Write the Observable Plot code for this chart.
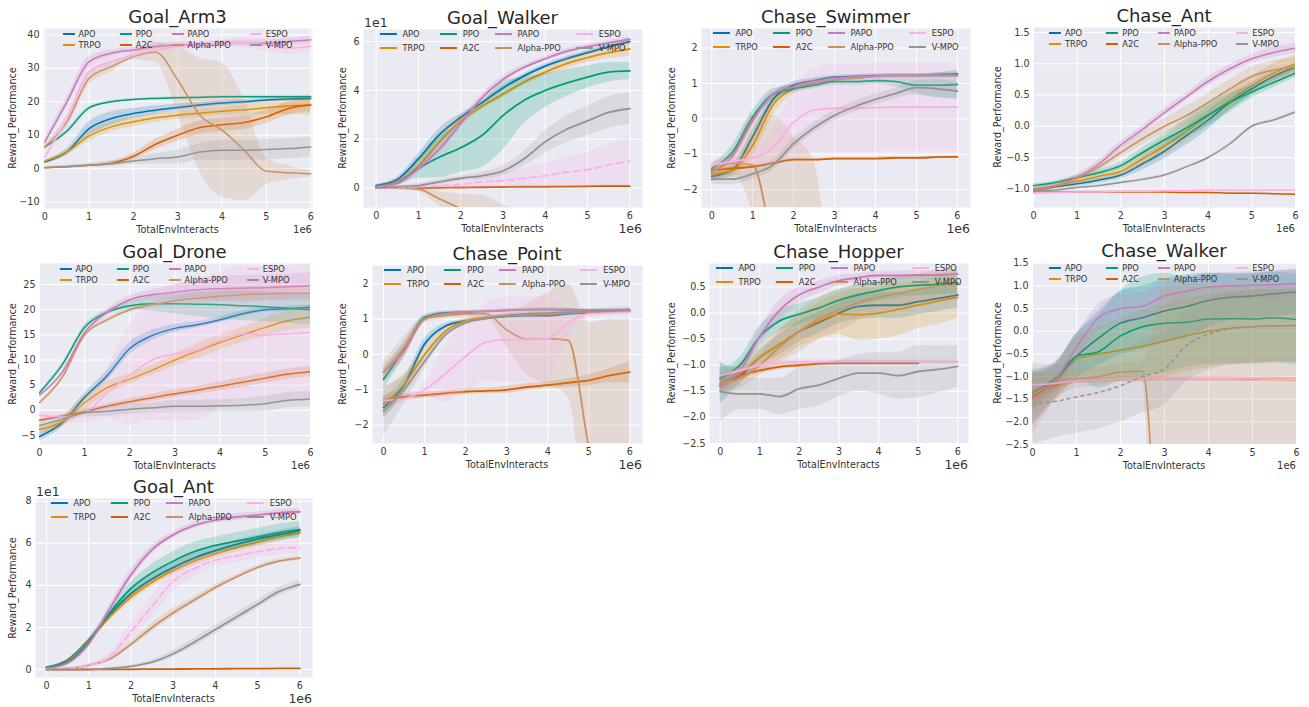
<!DOCTYPE html>
<html><head><meta charset="utf-8">
<script src="https://cdn.jsdelivr.net/npm/d3@7"></script>
<script src="https://cdn.jsdelivr.net/npm/@observablehq/plot@0.6"></script>
<style>
body{margin:0;background:#fff;font-family:"DejaVu Sans",sans-serif;}
#fig{position:relative;width:1309px;height:707px;overflow:hidden;background:#fff;}
.t{position:absolute;white-space:nowrap;color:#333;font-family:"DejaVu Sans",sans-serif;}
.title{font-size:18px;line-height:20px;color:#262626;transform:translateX(-50%);}
.xlab{font-size:9.6px;line-height:12px;transform:translateX(-50%);}
.ylab{font-size:9.6px;line-height:12px;transform:translate(-50%,-50%) rotate(-90deg);}
.legend{position:absolute;display:grid;grid-template-columns:repeat(4,auto);grid-auto-flow:column;transform:translateX(-50%);font-family:"DejaVu Sans",sans-serif;font-size:8.3px;color:#333;}
.legend .it{display:flex;align-items:center;white-space:nowrap;}
.legend .sw{display:inline-block;flex:none;}
</style></head><body><div id="fig"></div>
<script>
const methods = ["APO","TRPO","PPO","A2C","PAPO","Alpha-PPO","ESPO","V-MPO"];
const palette = ["#0173B2","#DE8F05","#029E73","#D55E00","#CC78BC","#CA9161","#FBAFE4","#949494"];
const steps = [0,500000,1000000,1500000,2000000,2500000,3000000,3500000,4000000,4500000,5000000,5500000,6000000];
const xTicks = [0,1000000,2000000,3000000,4000000,5000000,6000000];

// ---- Goal_Arm3 ----
const goalArm3 = {
  "APO":[2,5,12,15,16.5,17.5,18.3,19,19.6,20,20.5,20.8,21],
  "TRPO":[2.2,5,9.8,12.5,14,15.2,16,16.6,17.2,17.6,18.2,18.7,19],
  "PPO":[6.5,11.2,18.2,20,20.7,21,21.2,21.3,21.5,21.5,21.5,21.5,21.5],
  "A2C":[0.3,0.6,1,1.6,3.7,7.3,10,12.3,13.1,13.8,15.5,18,19],
  "PAPO":[8,20,32,34.5,35.5,36.5,37,37,37.5,37.5,37.5,38,38.5],
  "Alpha-PPO":[6.5,14,27,30.5,33.5,34.8,26.5,16,11.5,5.5,-0.8,-1.2,-1.5],
  "ESPO":[3.5,15,29,32,34,35.5,36.5,37,37.5,37.5,37,36,36.5],
  "V-MPO":[0.3,0.6,1,1.5,2.3,3,3.5,5,5.5,5.5,5.7,6,6.5]
};
const goalArm3Sd = {
  "APO":[0.5,1,2,2,1.5,1.2,1,0.8,0.8,0.7,0.6,0.6,0.6],
  "TRPO":[0.4,0.8,1.5,1.5,1.5,1.3,1.2,1.2,1.2,1.5,2,2.5,3],
  "PPO":[0.5,0.6,0.5,0.4,0.3,0.3,0.3,0.3,0.3,0.3,0.3,0.3,0.3],
  "A2C":[0.2,0.3,0.4,0.6,1,1.5,1.8,2,2,2,2,2,2],
  "PAPO":[1,1.5,1.5,1,0.8,0.8,0.8,0.8,0.8,1,1,1,1],
  "Alpha-PPO":[1,1.5,2,1.5,1,3,10,17,20,15,4,2,1],
  "ESPO":[1,1.5,2,1.5,1,1,1,1,1,1.5,2,2,1.5],
  "V-MPO":[0.3,0.5,0.5,0.8,1,1.5,2,2.5,3,3,3,3,3]
};

// ---- Goal_Walker ----
const goalWalker = {
  "APO":[1,3.5,12,22,29,35,41,46,50,53,55.5,58,60],
  "TRPO":[0.5,2.5,9,19,27.5,33.5,38.5,43.5,47.5,51,53.5,55.5,57],
  "PPO":[0.5,2,8,12.7,16.5,21.5,29.7,36,40,43,45.5,47.5,48],
  "A2C":[0,0,0,0.1,0.2,0.3,0.4,0.5,0.5,0.6,0.7,0.8,0.8],
  "PAPO":[0.5,2,8,16,26.5,37,44.5,49.5,53,56,58,59.5,61],
  "Alpha-PPO":[0,0,-0.5,-4.5,-8.5,-13,-18,-23,-28,-33,-38,-43,-48],
  "ESPO":[0,0.2,0.5,1,1.5,2.5,3,4,5,6.5,7.5,9.5,11],
  "V-MPO":[0,0.5,1,2.5,4,5,7,12,19,24,27.5,31,32.5]
};
const goalWalkerSd = {
  "APO":[0.5,1,2,2.5,1.5,1,1,1,1,1,1,1,1],
  "TRPO":[0.5,1,2,2.5,2,1.5,1.5,1.5,1.5,2,2,2.5,3],
  "PPO":[0.5,1,4,8.5,10,13,14,9.5,7,5.5,4.5,4,3.5],
  "A2C":[0.1,0.1,0.1,0.2,0.2,0.3,0.3,0.3,0.3,0.3,0.3,0.3,0.3],
  "PAPO":[0.5,1,2,2,2,1.5,1.5,1,1,1,1,1,1],
  "Alpha-PPO":[0.2,0.5,1,3,6,10,11,12,12,12,12,12,12],
  "ESPO":[0.5,1,1,1.5,2,2.5,3,4,5,6,7,8.5,10],
  "V-MPO":[0.3,0.5,0.8,1,1,1.5,2,3,4.5,5.5,6,6.5,6.5]
};

// ---- Chase_Swimmer ----
const chaseSwimmer = {
  "APO":[-1.62,-1.45,-0.5,0.55,0.95,1.08,1.18,1.2,1.22,1.23,1.23,1.25,1.27],
  "TRPO":[-1.55,-1.45,-0.75,0.4,0.85,1.0,1.1,1.15,1.2,1.22,1.22,1.22,1.22],
  "PPO":[-1.4,-0.95,0.05,0.7,0.85,0.95,1.05,1.05,1.08,1.05,0.95,0.95,0.97],
  "A2C":[-1.45,-1.4,-1.35,-1.25,-1.15,-1.15,-1.12,-1.12,-1.12,-1.1,-1.1,-1.08,-1.07],
  "PAPO":[-1.5,-1.05,-0.05,0.7,0.9,1.05,1.12,1.18,1.2,1.22,1.22,1.22,1.22],
  "Alpha-PPO":[-1.5,-1.25,-1.3,-3.5,-5,-6,-7,-8,-9,-10,-11,-12,-13],
  "ESPO":[-1.3,-1.2,-1.1,-0.8,-0.1,0.25,0.3,0.3,0.32,0.33,0.33,0.33,0.33],
  "V-MPO":[-1.7,-1.7,-1.55,-1.3,-0.7,-0.25,0.1,0.35,0.55,0.72,0.88,0.85,0.78]
};
const chaseSwimmerSd = {
  "APO":[0.1,0.15,0.2,0.15,0.1,0.08,0.05,0.05,0.05,0.05,0.05,0.05,0.05],
  "TRPO":[0.15,0.2,0.3,0.3,0.15,0.1,0.08,0.05,0.05,0.05,0.05,0.05,0.05],
  "PPO":[0.1,0.2,0.2,0.15,0.1,0.1,0.1,0.1,0.1,0.15,0.25,0.35,0.4],
  "A2C":[0.05,0.05,0.05,0.04,0.03,0.03,0.03,0.03,0.03,0.03,0.03,0.03,0.03],
  "PAPO":[0.1,0.15,0.15,0.1,0.08,0.06,0.05,0.05,0.05,0.05,0.05,0.05,0.05],
  "Alpha-PPO":[0.3,0.3,1.4,3.6,4.5,4.8,2,2,2,2,2,2,2],
  "ESPO":[0.1,0.1,0.2,0.5,0.9,1.2,1.25,1.25,1.25,1.25,1.25,1.25,1.25],
  "V-MPO":[0.15,0.15,0.15,0.15,0.15,0.15,0.15,0.15,0.15,0.15,0.2,0.25,0.25]
};

// ---- Chase_Ant ----
const chaseAnt = {
  "APO":[-1.03,-0.97,-0.92,-0.86,-0.78,-0.6,-0.4,-0.15,0.1,0.38,0.6,0.8,0.95],
  "TRPO":[-1.02,-0.95,-0.88,-0.8,-0.72,-0.52,-0.32,-0.08,0.17,0.42,0.65,0.85,1.0],
  "PPO":[-0.95,-0.9,-0.82,-0.74,-0.63,-0.42,-0.22,-0.03,0.18,0.38,0.55,0.7,0.85],
  "A2C":[-1.05,-1.05,-1.05,-1.05,-1.05,-1.05,-1.05,-1.06,-1.06,-1.07,-1.07,-1.08,-1.09],
  "PAPO":[-1.0,-0.95,-0.82,-0.6,-0.3,-0.05,0.22,0.47,0.72,0.92,1.08,1.18,1.25],
  "Alpha-PPO":[-1.0,-0.95,-0.83,-0.65,-0.42,-0.2,0.0,0.17,0.38,0.6,0.8,0.9,0.95],
  "ESPO":[-1.07,-1.06,-1.05,-1.05,-1.04,-1.04,-1.03,-1.03,-1.02,-1.02,-1.02,-1.02,-1.02],
  "V-MPO":[-1.03,-1.02,-0.98,-0.95,-0.9,-0.85,-0.78,-0.65,-0.5,-0.28,0.0,0.1,0.23]
};
const chaseAntSd = {
  "APO":[0.03,0.03,0.04,0.05,0.06,0.1,0.12,0.15,0.15,0.12,0.1,0.08,0.06],
  "TRPO":[0.03,0.04,0.05,0.06,0.08,0.12,0.15,0.15,0.15,0.15,0.15,0.15,0.15],
  "PPO":[0.03,0.03,0.04,0.05,0.06,0.08,0.1,0.15,0.18,0.15,0.1,0.08,0.07],
  "A2C":[0.01,0.01,0.01,0.01,0.01,0.01,0.01,0.01,0.01,0.01,0.01,0.01,0.01],
  "PAPO":[0.03,0.04,0.05,0.06,0.06,0.06,0.06,0.06,0.07,0.07,0.07,0.08,0.08],
  "Alpha-PPO":[0.03,0.04,0.05,0.06,0.08,0.1,0.12,0.15,0.15,0.15,0.15,0.15,0.15],
  "ESPO":[0.03,0.03,0.03,0.03,0.03,0.03,0.03,0.03,0.03,0.03,0.03,0.03,0.03],
  "V-MPO":[0.02,0.02,0.02,0.02,0.02,0.02,0.02,0.02,0.02,0.02,0.02,0.02,0.02]
};

// ---- Goal_Drone ----
const goalDrone = {
  "APO":[-5.2,-2.5,2.6,6.9,12.3,14.9,16.3,17,18,19.2,20,20.2,20.5],
  "TRPO":[-3.8,-2.3,1.5,4.5,6.2,8,10,11.8,13.5,15,16.5,17.8,18.5],
  "PPO":[3.5,9,16.5,19.5,20.8,21.2,21.2,21.1,21,20.8,20.6,20.3,20],
  "A2C":[-2,-1.2,-0.3,0.8,1.7,2.5,3.3,4,4.8,5.6,6.4,7.2,7.7],
  "PAPO":[3,7.5,15.5,19.5,22,23,23.5,24,24.2,24.3,24.4,24.6,24.8],
  "Alpha-PPO":[1.5,6.5,15,18,20,21,21.8,22.3,22.7,23,23.2,23.3,23.3],
  "ESPO":[-1,-1.3,-0.5,3.5,7,10,11.3,12,14,15.2,15,15.2,15.5],
  "V-MPO":[-3,-1.8,-0.5,-0.2,0.2,0.5,0.8,0.8,0.9,1,1.3,2,2.2]
};
const goalDroneSd = {
  "APO":[0.8,0.8,0.8,1,1.2,1,0.8,0.6,0.6,0.6,0.5,0.5,0.5],
  "TRPO":[0.8,1,1.5,1.2,1,1,1.2,1.5,1.5,1.5,1.8,2,2.2],
  "PPO":[0.3,0.4,0.5,0.5,0.8,1.5,2,2.5,2.8,3,3,3,3],
  "A2C":[0.3,0.3,0.3,0.5,0.6,0.7,0.8,0.8,0.9,1,1,1,1],
  "PAPO":[0.3,0.4,0.5,0.6,0.8,1,1.5,2,2.5,2.5,2.5,2.5,2.5],
  "Alpha-PPO":[0.3,0.4,0.5,0.5,0.5,0.6,0.8,1,1,1.5,1.5,1.5,1.5],
  "ESPO":[0.5,1,2,5,10,12,13.5,14,13.5,13.5,13.5,13.5,13.5],
  "V-MPO":[0.8,0.8,0.8,1,1,1,1.2,1.2,1.2,1.3,1.5,1.5,1.5]
};

// ---- Chase_Point ----
const chasePoint = {
  "APO":[-1.5,-0.87,0.3,0.8,0.95,1.02,1.08,1.1,1.1,1.15,1.18,1.2,1.22],
  "TRPO":[-1.4,-0.85,0.0,0.65,0.95,1.05,1.1,1.12,1.15,1.18,1.2,1.22,1.25],
  "PPO":[-0.7,0.15,1.05,1.18,1.2,1.22,1.25,1.27,1.28,1.27,1.25,1.25,1.22],
  "A2C":[-1.3,-1.2,-1.15,-1.1,-1.05,-1.03,-1.0,-0.92,-0.87,-0.8,-0.73,-0.6,-0.5],
  "PAPO":[-0.5,0.1,1.0,1.15,1.2,1.22,1.25,1.27,1.27,1.25,1.25,1.25,1.25],
  "Alpha-PPO":[-0.5,0.2,1.0,1.1,1.15,1.15,0.7,0.43,0.45,0.4,-2.6,-5,-7],
  "ESPO":[-1.3,-1.25,-1.0,-0.55,-0.05,0.35,0.42,0.42,0.45,0.9,1.15,1.18,1.2],
  "V-MPO":[-1.6,-1.0,-0.2,0.55,0.9,1.02,1.1,1.15,1.17,1.2,1.22,1.25,1.28]
};
const chasePointSd = {
  "APO":[0.3,0.2,0.15,0.08,0.05,0.05,0.05,0.05,0.05,0.05,0.05,0.05,0.05],
  "TRPO":[0.4,0.3,0.2,0.1,0.06,0.05,0.05,0.05,0.05,0.05,0.05,0.05,0.05],
  "PPO":[0.3,0.2,0.08,0.05,0.04,0.04,0.04,0.04,0.04,0.04,0.04,0.04,0.04],
  "A2C":[0.1,0.08,0.08,0.08,0.08,0.08,0.1,0.1,0.1,0.12,0.15,0.2,0.3],
  "PAPO":[0.2,0.2,0.08,0.05,0.04,0.04,0.04,0.04,0.04,0.04,0.04,0.04,0.04],
  "Alpha-PPO":[0.3,0.3,0.1,0.1,0.1,0.1,0.5,1.0,1.3,1.6,3.5,6,8],
  "ESPO":[0.1,0.1,0.2,0.8,1.0,1.1,1.2,1.2,1.2,0.4,0.1,0.1,0.1],
  "V-MPO":[0.7,0.4,0.2,0.1,0.08,0.06,0.05,0.05,0.05,0.05,0.05,0.08,0.08]
};

// ---- Chase_Hopper ----
const chaseHopper = {
  "APO":[-1.35,-1.2,-0.85,-0.6,-0.35,-0.18,0.0,0.13,0.15,0.15,0.22,0.28,0.35],
  "TRPO":[-1.35,-1.15,-0.85,-0.6,-0.35,-0.15,-0.02,-0.03,0.0,0.07,0.15,0.23,0.3],
  "PPO":[-1.25,-1.0,-0.45,-0.15,-0.02,0.1,0.25,0.35,0.43,0.5,0.53,0.55,0.58],
  "A2C":[-1.4,-1.2,-1.1,-1.03,-1.0,-0.97,-0.96,-0.96,-0.96,-0.96,-0.96,null,null],
  "PAPO":[-1.4,-1.1,-0.45,0.05,0.35,0.5,0.62,0.68,0.72,0.72,0.73,0.73,0.75],
  "Alpha-PPO":[-1.35,-1.25,-1.0,-0.65,-0.35,-0.1,0.05,0.2,0.3,0.38,0.45,0.52,0.55],
  "ESPO":[-1.2,-1.1,-1.0,-0.95,-0.93,-0.93,-0.93,-0.93,-0.93,-0.93,-0.93,-0.93,-0.93],
  "V-MPO":[-1.5,-1.55,-1.55,-1.6,-1.45,-1.38,-1.25,-1.15,-1.15,-1.2,-1.12,-1.08,-1.02]
};
const chaseHopperSd = {
  "APO":[0.4,0.15,0.15,0.2,0.2,0.2,0.2,0.25,0.25,0.25,0.25,0.25,0.25],
  "TRPO":[0.2,0.2,0.2,0.3,0.3,0.35,0.4,0.5,0.5,0.5,0.45,0.45,0.4],
  "PPO":[0.2,0.15,0.2,0.2,0.2,0.2,0.2,0.2,0.2,0.2,0.2,0.2,0.2],
  "A2C":[0.1,0.08,0.06,0.05,0.05,0.04,0.04,0.04,0.04,0.04,0.04,null,null],
  "PAPO":[0.1,0.1,0.15,0.2,0.15,0.12,0.1,0.08,0.08,0.08,0.08,0.08,0.08],
  "Alpha-PPO":[0.2,0.2,0.2,0.3,0.4,0.4,0.4,0.35,0.3,0.3,0.3,0.3,0.3],
  "ESPO":[0.05,0.05,0.05,0.05,0.05,0.05,0.05,0.05,0.05,0.05,0.05,0.05,0.05],
  "V-MPO":[0.6,0.3,0.3,0.35,0.4,0.4,0.35,0.35,0.4,0.45,0.5,0.45,0.4]
};

// ---- Chase_Walker ----
const chaseWalker = {
  "APO":[-1.45,-1.1,-0.55,-0.15,0.18,0.3,0.45,0.55,0.68,0.75,0.78,0.83,0.87],
  "TRPO":[-1.4,-1.15,-0.62,-0.5,-0.42,-0.33,-0.22,-0.1,0.0,0.07,0.1,0.12,0.13],
  "PPO":[-1.35,-1.05,-0.55,-0.45,-0.1,0.1,0.18,0.2,0.27,0.28,0.27,0.3,0.26],
  "A2C":[-1.45,-1.2,-1.1,-1.08,-1.05,-1.05,-1.05,-1.05,-1.05,-1.05,-1.06,-1.06,-1.07],
  "PAPO":[-1.5,-1.1,-0.35,0.3,0.5,0.55,0.78,0.88,0.98,1.0,1.02,1.03,1.05],
  "Alpha-PPO":[-1.6,-1.25,-1.05,-1.0,-0.9,-0.88,-7,-8,-8,-8,-8,-8,-8],
  "ESPO":[-1.18,-1.15,-1.1,-1.08,-1.05,-1.05,-1.05,-1.05,-1.05,-1.05,-1.05,-1.06,-1.07],
  "V-MPO":[-1.6,-1.55,-1.45,-1.35,-1.2,-1.0,-0.83,-0.31,-0.06,0.05,0.1,0.12,0.13]
};
const chaseWalkerSd = {
  "APO":[0.6,0.4,0.5,0.6,0.7,0.7,0.7,0.7,0.6,0.5,0.5,0.5,0.5],
  "TRPO":[0.5,0.4,0.5,0.6,0.7,0.8,0.8,0.8,0.8,0.8,0.8,0.8,0.8],
  "PPO":[0.4,0.3,0.5,0.8,1.0,1.1,1.1,1.0,1.0,1.0,1.0,1.0,1.0],
  "A2C":[0.1,0.1,0.05,0.05,0.05,0.05,0.05,0.05,0.05,0.05,0.05,0.05,0.05],
  "PAPO":[0.6,0.4,0.3,0.3,0.3,0.3,0.3,0.3,0.3,0.3,0.3,0.3,0.3],
  "Alpha-PPO":[0.7,0.3,0.2,0.2,0.2,0.2,8,9,9,9,9,9,9],
  "ESPO":[0.03,0.03,0.03,0.03,0.03,0.03,0.03,0.03,0.03,0.03,0.03,0.03,0.03],
  "V-MPO":[0.9,0.8,0.8,0.8,0.8,0.8,0.8,0.8,0.8,0.8,0.8,0.8,0.8]
};

// ---- Goal_Ant ----
const goalAnt = {
  "APO":[1,4.5,14,26,36,43,48.5,53,56.5,59.5,62,64,66],
  "TRPO":[1,4,13.5,25,34.5,41.5,47,51.5,55,58,60.5,63,65],
  "PPO":[1,3.5,13,27,38.5,46,51.5,56,59,61,63,65,66.5],
  "A2C":[0,0,0,0.1,0.1,0.2,0.2,0.3,0.3,0.4,0.4,0.5,0.5],
  "PAPO":[0.5,3,12,29,45,57,64,68.5,71,72.5,73.5,74.5,75],
  "Alpha-PPO":[0,0.5,2,5,12,20,27,33,39,44,48.5,51.5,53],
  "ESPO":[0,0.5,2,6,18,30,42,48,52,54,56,57.5,58],
  "V-MPO":[0,0,0,0.5,1.5,3.5,7.5,13,19,25,31,37,40.5]
};
const goalAntSd = {
  "APO":[0.3,0.5,1,1.5,2,2,2,2,2,2,2,2,2],
  "TRPO":[0.3,0.5,1,1.5,2,2,2,2,2,2,2,2,2],
  "PPO":[0.3,0.5,1,2,3,4,4.5,4.5,4,4,4,4,4],
  "A2C":[0.1,0.1,0.1,0.1,0.1,0.1,0.1,0.1,0.1,0.1,0.1,0.1,0.1],
  "PAPO":[0.3,0.5,1,2,2.5,2,1.5,1.5,1.5,1.5,1.5,1.5,1.5],
  "Alpha-PPO":[0.2,0.3,0.5,1,1.5,2,2,1.5,1.5,1,1,1,1],
  "ESPO":[0.2,0.3,0.8,2,4,5,5,4,3,3,3,3,3],
  "V-MPO":[0.1,0.1,0.1,0.3,0.5,1,1.5,2,2,2,2,2,2]
};

const fInt = d3.format("d"), f1 = d3.format(".1f");
const panels = [
  {title:"Goal_Arm3", mean:goalArm3, sd:goalArm3Sd, box:[43,28,312,208], xd:[-0.03,6.04], yd:[-11.9,41.9], yt:[-10,0,10,20,30,40], fmt:fInt, ylab:13, big:false},
  {title:"Goal_Walker", mean:goalWalker, sd:goalWalkerSd, box:[363,29,642,207], xd:[-0.3,6.3], yd:[-8,65], yt:[0,20,40,60], fmt:d=>fInt(d/10), ylab:343, big:true, e1:true, dash:{"ESPO":"7,4"}},
  {title:"Chase_Swimmer", mean:chaseSwimmer, sd:chaseSwimmerSd, box:[701,28,970,207], xd:[-0.25,6.32], yd:[-2.5,2.55], yt:[-2,-1,0,1,2], fmt:fInt, ylab:672, big:true},
  {title:"Chase_Ant", mean:chaseAnt, sd:chaseAntSd, box:[1033,27,1295,207], xd:[0,6], yd:[-1.3,1.58], yt:[-1,-0.5,0,0.5,1,1.5], fmt:f1, ylab:998, big:false},
  {title:"Goal_Drone", mean:goalDrone, sd:goalDroneSd, box:[39,263,310,444], xd:[0,6], yd:[-6.8,29.2], yt:[-5,0,5,10,15,20,25], fmt:fInt, ylab:13, big:false},
  {title:"Chase_Point", mean:chasePoint, sd:chasePointSd, box:[372,265,642,443], xd:[-0.27,6.31], yd:[-2.52,2.52], yt:[-2,-1,0,1,2], fmt:fInt, ylab:343, big:true},
  {title:"Chase_Hopper", mean:chaseHopper, sd:chaseHopperSd, box:[709,263,968,443], xd:[-0.27,6.27], yd:[-2.5,0.95], yt:[-2.5,-2,-1.5,-1,-0.5,0,0.5], fmt:f1, ylab:672, big:true},
  {title:"Chase_Walker", mean:chaseWalker, sd:chaseWalkerSd, box:[1032,262,1296,444], xd:[0,6], yd:[-2.5,1.52], yt:[-2.5,-2,-1.5,-1,-0.5,0,0.5,1,1.5], fmt:f1, ylab:998, big:false, dash:{"V-MPO":"3,4"}},
  {title:"Goal_Ant", mean:goalAnt, sd:goalAntSd, box:[35,498,312,677], xd:[-0.26,6.3], yd:[-3.8,81.3], yt:[0,20,40,60,80], fmt:d=>fInt(d/10), ylab:13, big:true, e1:true, dash:{"ESPO":"7,4"}}
];

const fig = document.getElementById("fig");
function addText(cls, txt, css){
  const el = document.createElement("div");
  el.className = "t " + cls;
  el.textContent = txt;
  Object.assign(el.style, css);
  fig.appendChild(el);
  return el;
}

for (const p of panels){
  const [L,T,R,B] = p.box;
  const mL = 34, mR = 6, mT = 4, mB = 20;
  const marks = [
    Plot.frame({fill:"#EAEAF2", stroke:"none"}),
    Plot.gridX({ticks:xTicks, stroke:"white", strokeOpacity:1, strokeWidth:1}),
    Plot.gridY({ticks:p.yt, stroke:"white", strokeOpacity:1, strokeWidth:1})
  ];
  const lw = p.big ? 1.8 : 1.5;
  methods.forEach((m,i)=>{
    const rows = [];
    steps.forEach((s,j)=>{
      const v = p.mean[m][j], e = p.sd[m][j];
      if (v == null) return;
      rows.push({step:s, y:v, lo:v-e, hi:v+e});
    });
    marks.push(Plot.areaY(rows, {x:"step", y1:"lo", y2:"hi", fill:palette[i], fillOpacity:0.2, curve:"monotone-x", clip:true}));
    marks.push(Plot.lineY(rows, {x:"step", y:"y", stroke:palette[i], strokeWidth:lw, curve:"monotone-x", clip:true,
      strokeDasharray: (p.dash && p.dash[m]) ? p.dash[m] : null}));
  });
  marks.push(Plot.axisX({ticks:xTicks, tickSize:0, tickPadding:5, tickFormat:d=>fInt(d/1e6), label:null}));
  marks.push(Plot.axisY({ticks:p.yt, tickSize:0, tickPadding:4, tickFormat:p.fmt, label:null}));
  const svg = Plot.plot({
    width:(R-L)+mL+mR, height:(B-T)+mT+mB,
    marginLeft:mL, marginRight:mR, marginTop:mT, marginBottom:mB,
    x:{domain:[p.xd[0]*1e6, p.xd[1]*1e6]},
    y:{domain:p.yd},
    style:{background:"transparent", fontFamily:"'DejaVu Sans', sans-serif", fontSize:"9.6px", color:"#3a3a3a", overflow:"visible"},
    marks
  });
  svg.style.position = "absolute";
  svg.style.left = (L-mL)+"px";
  svg.style.top = (T-mT)+"px";
  svg.style.maxWidth = "none";
  fig.appendChild(svg);

  addText("title", p.title, {left:((L+R)/2)+"px", top:(T-21)+"px"});
  addText("xlab", "TotalEnvInteracts", {left:((L+R)/2)+"px", top:(B+16)+"px"});
  addText("ylab", "Reward_Performance", {left:p.ylab+"px", top:((T+B)/2)+"px"});
  const e6 = addText("", "1e6", {top:(B + (p.big ? 14 : 16))+"px", fontSize:(p.big ? "12.5px" : "10px"), lineHeight:(p.big?"16px":"12px")});
  e6.style.right = (1309 - R) + "px";
  if (p.e1) addText("", "1e1", {left:(L+1)+"px", top:(T-14)+"px", fontSize:"12.5px", lineHeight:"16px"});

  // legend
  const leg = document.createElement("div");
  leg.className = "legend";
  const sw = p.big ? 17 : 12, pad = p.big ? 6 : 4, gap = p.big ? 15 : 19, rh = p.big ? 14 : 11;
  leg.style.left = ((L+R)/2)+"px";
  leg.style.top = (p.big ? T-2 : T+0.5)+"px";
  leg.style.gridTemplateRows = `repeat(2, ${rh}px)`;
  leg.style.columnGap = gap+"px";
  methods.forEach((m,i)=>{
    const it = document.createElement("div");
    it.className = "it";
    const s = document.createElement("span");
    s.className = "sw";
    s.style.width = sw+"px";
    s.style.height = (p.big ? 2.2 : 1.6)+"px";
    s.style.background = palette[i];
    s.style.marginRight = pad+"px";
    it.appendChild(s);
    const tx = document.createElement("span");
    tx.textContent = m;
    it.appendChild(tx);
    leg.appendChild(it);
  });
  fig.appendChild(leg);
}
</script>
</body></html>
